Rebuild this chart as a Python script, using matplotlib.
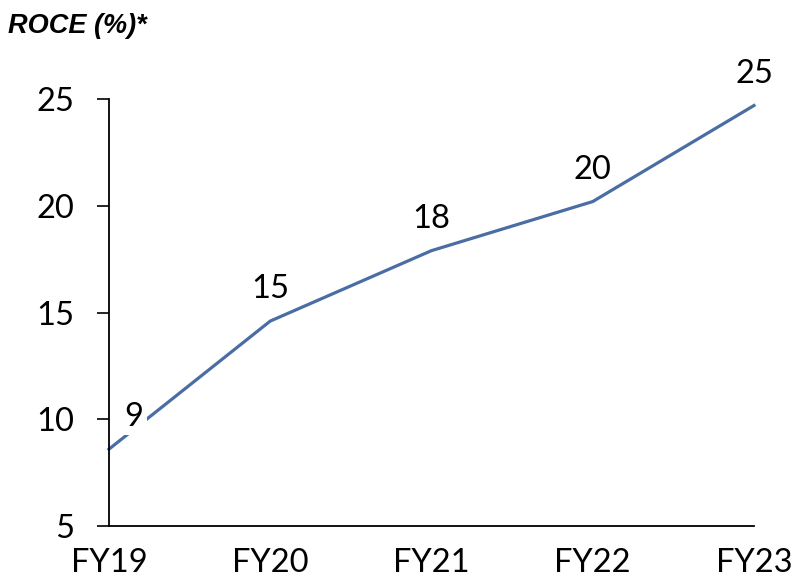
import matplotlib.pyplot as plt

# ROCE data
years = ["FY19", "FY20", "FY21", "FY22", "FY23"]
roce = [8.6, 14.6, 17.9, 20.2, 24.7]
labels = ["9", "15", "18", "20", "25"]
yticks = [5, 10, 15, 20, 25]

plt.rcParams['font.family'] = ['Lato', 'DejaVu Sans']

fig = plt.figure(figsize=(7.92, 5.83), dpi=100)
ax = fig.add_axes([0.1376, 0.0978, 0.8144, 0.7322])

x = list(range(len(years)))
ax.plot(x, roce, color='#4a6ea3', linewidth=2.3, clip_on=False, zorder=2)

for i, (v, lab) in enumerate(zip(roce, labels)):
    dx = 18 if i == 0 else 0
    ax.annotate(lab, (i, v), xytext=(dx, 23), textcoords='offset points',
                ha='center', va='center', fontsize=23.5,
                bbox=dict(boxstyle='square,pad=0.1', fc='white', ec='none') if i == 0 else None,
                zorder=3, annotation_clip=False)

ax.set_xlim(0, len(years) - 1)
ax.set_ylim(5, 25)
ax.set_xticks(x)
ax.set_xticklabels(years, fontsize=23.5)
ax.set_yticks(yticks)
ax.set_yticklabels([str(t) for t in yticks], fontsize=23.5)
ax.tick_params(axis='x', length=0, pad=15.5)
ax.tick_params(axis='y', length=9, width=1.2, pad=16)

for s in ['top', 'right']:
    ax.spines[s].set_visible(False)
for s in ['left', 'bottom']:
    ax.spines[s].set_linewidth(1.3)

fig.text(0.01, 0.955, "ROCE (%)*", fontsize=19.5, fontweight='bold', style='italic',
         family='Liberation Sans', va='center', ha='left')

fig.savefig("out.png", dpi=100)
